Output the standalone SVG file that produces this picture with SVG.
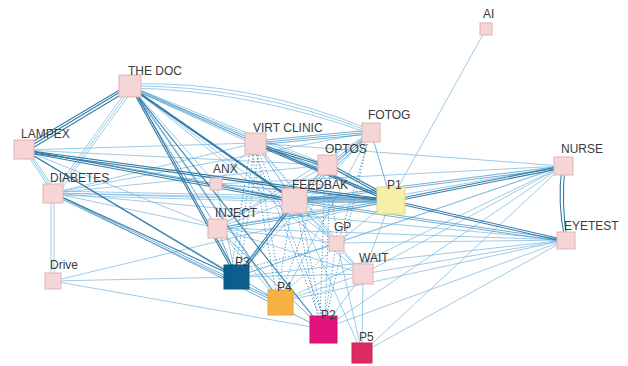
<svg xmlns="http://www.w3.org/2000/svg" width="628" height="366" viewBox="0 0 628 366">
<style>
.d{fill:none;stroke:#1f6f9f;stroke-width:1.1;stroke-opacity:.9}
.m{fill:none;stroke:#3b8fc2;stroke-width:.8;stroke-opacity:.9}
.l{fill:none;stroke:#74b6dc;stroke-width:.7}
.t{fill:none;stroke:#3d94c6;stroke-width:1;stroke-dasharray:1.2 2}
.n rect{fill:#f6d5d7;stroke:#e3b3b5;stroke-width:1}
text{font-family:"Liberation Sans",Arial,sans-serif;font-size:12px;fill:#3a3a3a}
</style>
<rect width="628" height="366" fill="#ffffff"/>
<g id="connectors">
<path class="l" d="M130 86L53 193M132 87L55 194M134 88L57 195"/>
<path class="l" d="M130 86Q250 85 371 132M130 88Q250 90 371 134M130 84Q250 80 371 130"/>
<path class="l" d="M130 86L255 143M130 88L255 145"/>
<path class="l" d="M130 86L327 165M130 88L327 167"/>
<path class="l" d="M130 86L216 184"/>
<path class="l" d="M130 86L363 274"/>
<path class="l" d="M130 86L337 243"/>
<path class="l" d="M24 150L53 193M26 150L55 193M28 150L57 193"/>
<path class="l" d="M24 150L217 228"/>
<path class="l" d="M24 150L327 165"/>
<path class="l" d="M24 150L255 143"/>
<path class="l" d="M51 193L51 281M54 193L54 281"/>
<path class="l" d="M53 193L294 200M53 195L294 202"/>
<path class="l" d="M53 193L391 200M53 191L391 198"/>
<path class="l" d="M53 193L255 143"/>
<path class="l" d="M53 193L371 132"/>
<path class="l" d="M53 193L217 228"/>
<path class="l" d="M53 193L327 165"/>
<path class="l" d="M53 193L566 240"/>
<path class="l" d="M53 281L391 200"/>
<path class="l" d="M53 281L236 277"/>
<path class="l" d="M53 281L323 329"/>
<path class="l" d="M216 184L255 143"/>
<path class="l" d="M216 184L563 166"/>
<path class="l" d="M216 184L236 277"/>
<path class="l" d="M255 143L363 274"/>
<path class="l" d="M255 143L563 166"/>
<path class="l" d="M371 132L236 277"/>
<path class="l" d="M371 132L217 228"/>
<path class="l" d="M371 132L280 302"/>
<path class="l" d="M327 165L236 277"/>
<path class="l" d="M327 165L217 228"/>
<path class="l" d="M294 200L217 228"/>
<path class="l" d="M294 200L337 243"/>
<path class="l" d="M294 200L363 274"/>
<path class="l" d="M294 200L362 353"/>
<path class="l" d="M391 200L337 243"/>
<path class="l" d="M391 200L363 274"/>
<path class="l" d="M486 29L391 200"/>
<path class="l" d="M563 166L217 228"/>
<path class="l" d="M563 166L236 277"/>
<path class="l" d="M563 166L337 243"/>
<path class="l" d="M563 166L363 274"/>
<path class="l" d="M563 166L323 329"/>
<path class="l" d="M563 166L362 353"/>
<path class="l" d="M563 166L280 302"/>
<path class="l" d="M566 240L217 228"/>
<path class="l" d="M566 240L236 277"/>
<path class="l" d="M566 240L337 243"/>
<path class="l" d="M566 240L363 274"/>
<path class="l" d="M566 240L323 329"/>
<path class="l" d="M566 240L362 353"/>
<path class="l" d="M566 240L280 302"/>
<path class="l" d="M217 228L280 302"/>
<path class="l" d="M217 228L337 243"/>
<path class="l" d="M217 228L363 274"/>
<path class="l" d="M337 243L362 353"/>
<path class="l" d="M337 243L236 277"/>
<path class="l" d="M363 274L323 329"/>
<path class="l" d="M363 274L362 353"/>
<path class="l" d="M363 274L236 277"/>
<path class="l" d="M363 274L280 302"/>
<path class="m" d="M130 86L391 200M130 88L391 202"/>
<path class="m" d="M130 86L280 302M131 86L281 302"/>
<path class="m" d="M130 86L217 228"/>
<path class="m" d="M24 150L216 184"/>
<path class="m" d="M24 150L280 302"/>
<path class="m" d="M53 193L280 302M53 195L280 304"/>
<path class="m" d="M53 193L323 329"/>
<path class="m" d="M255 143L371 132M255 141L371 130M255 145L371 134"/>
<path class="m" d="M255 143L294 200"/>
<path class="m" d="M371 132L327 165M373 133L329 166"/>
<path class="m" d="M371 132L294 200M372 134L295 202"/>
<path class="m" d="M371 132L391 200"/>
<path class="m" d="M327 165L294 200"/>
<path class="m" d="M294 200L563 166M294 202L563 168"/>
<path class="m" d="M294 200L566 240M294 202L566 242"/>
<path class="m" d="M391 200L217 228M391 202L217 230"/>
<path class="m" d="M217 228L236 277"/>
<path class="m" d="M217 228L323 329"/>
<path class="m" d="M216 184L391 200"/>
<path class="m" d="M216 184L294 200"/>
<path class="d" d="M130 86L24 150M132 88L26 152M128 85L22 148"/>
<path class="d" d="M130 86L294 200M131 88L295 202"/>
<path class="d" d="M130 86L236 277M132 86L238 277"/>
<path class="d" d="M130 86L323 329"/>
<path class="d" d="M24 150L294 200M24 152L294 202"/>
<path class="d" d="M24 150L391 200M24 152L391 202"/>
<path class="d" d="M24 150L236 277"/>
<path class="d" d="M53 193L236 277"/>
<path class="d" d="M255 143L327 165M255 145L327 167"/>
<path class="d" d="M255 143L391 200M256 145L391 202"/>
<path class="d" d="M327 165L391 200M328 163L392 198"/>
<path class="d" d="M294 200L391 200M294 202L391 202M294 198L391 198"/>
<path class="d" d="M294 200L236 277M296 201L238 278"/>
<path class="d" d="M391 200L563 166M391 202L563 168"/>
<path class="d" d="M391 200L566 240M391 202L566 242"/>
<path class="d" d="M562 166Q557 203 565 240M565 166Q561 203 567 240"/>
<path class="t" d="M250 150L232 266M254 152L236 266M259 152L240 266"/>
<path class="t" d="M252 152L276 292M257 152L281 292"/>
<path class="t" d="M255 152L320 318M259 152L324 318"/>
<path class="t" d="M262 150L335 237"/>
<path class="t" d="M368 141L326 318"/>
<path class="t" d="M368 141L340 237"/>
<path class="t" d="M325 175L320 318M330 175L325 318"/>
<path class="t" d="M323 175L282 292"/>
<path class="t" d="M329 175L337 237"/>
<path class="t" d="M297 212L318 318M301 212L322 318"/>
<path class="t" d="M291 212L278 292"/>
<path class="t" d="M335 251L325 318"/>
<path class="t" d="M333 249L285 292"/>
<path class="t" d="M245 268L331 246"/>
<path class="t" d="M336 170L378 190"/>
</g>
<g id="node-ai" class="n"><rect x="480" y="23" width="12" height="12"/><text x="483" y="18">AI</text></g>
<g id="node-thedoc" class="n"><rect x="119" y="75" width="22" height="22"/><text x="128" y="75">THE DOC</text></g>
<g id="node-fotog" class="n"><rect x="362" y="123" width="18" height="19"/><text x="368" y="119">FOTOG</text></g>
<g id="node-lampex" class="n"><rect x="14" y="140" width="20" height="19"/><text x="21" y="138">LAMPEX</text></g>
<g id="node-virtclinic" class="n"><rect x="245" y="133" width="21" height="21"/><text x="253" y="132">VIRT CLINIC</text></g>
<g id="node-nurse" class="n"><rect x="554" y="157" width="19" height="18"/><text x="561" y="153">NURSE</text></g>
<g id="node-optos" class="n"><rect x="318" y="155" width="19" height="20"/><text x="325" y="153">OPTOS</text></g>
<g id="node-anx" class="n"><rect x="210" y="178" width="12" height="12"/><text x="213" y="173">ANX</text></g>
<g id="node-diabetes" class="n"><rect x="43" y="184" width="20" height="19"/><text x="50" y="182">DIABETES</text></g>
<g id="node-feedbak" class="n"><rect x="282" y="188" width="25" height="25"/><text x="292" y="189">FEEDBAK</text></g>
<g id="node-p1"><rect x="377" y="187" width="28" height="27" fill="#f6f0a6" stroke="#e0d68a"/><text x="387" y="189">P1</text></g>
<g id="node-inject" class="n"><rect x="208" y="219" width="19" height="19"/><text x="215" y="217">INJECT</text></g>
<g id="node-gp" class="n"><rect x="329" y="236" width="15" height="15"/><text x="334" y="231">GP</text></g>
<g id="node-eyetest" class="n"><rect x="557" y="232" width="18" height="17"/><text x="564" y="230">EYETEST</text></g>
<g id="node-drive" class="n"><rect x="45" y="273" width="16" height="16"/><text x="50" y="269">Drive</text></g>
<g id="node-wait" class="n"><rect x="353" y="264" width="20" height="20"/><text x="359" y="262">WAIT</text></g>
<g id="node-p3"><rect x="224" y="265" width="25" height="24" fill="#0d5e8e" stroke="#0b5480"/><text x="235" y="266">P3</text></g>
<g id="node-p4"><rect x="268" y="290" width="25" height="25" fill="#f6b343" stroke="#e5a53a"/><text x="277" y="291">P4</text></g>
<g id="node-p2"><rect x="310" y="316" width="27" height="27" fill="#e3137d" stroke="#d01070"/><text x="321" y="319">P2</text></g>
<g id="node-p5"><rect x="352" y="343" width="20" height="20" fill="#df2a61" stroke="#cc2357"/><text x="359" y="341">P5</text></g>
</svg>
